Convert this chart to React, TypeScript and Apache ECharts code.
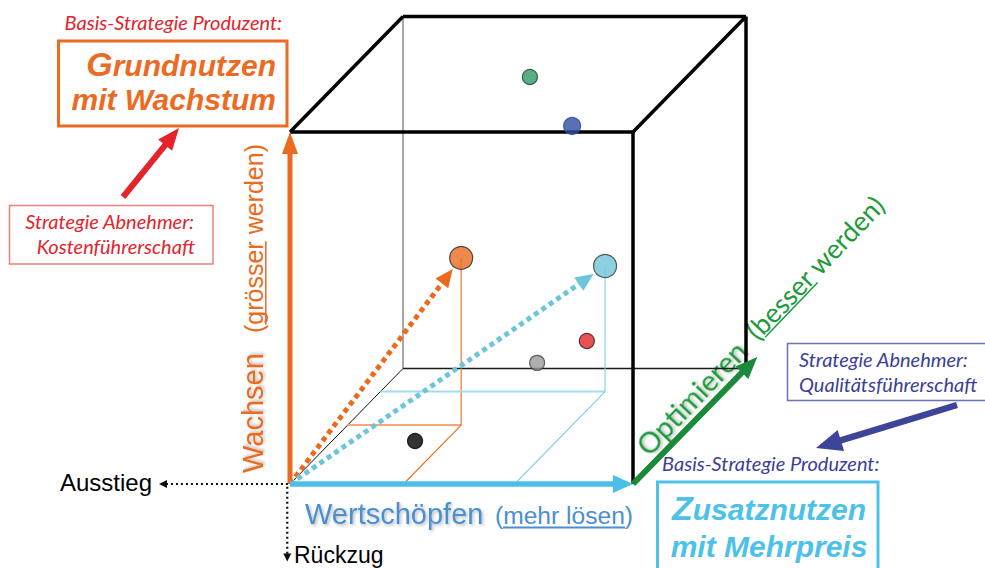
import React, { useEffect, useRef } from 'react';
import * as echarts from 'echarts';

const WIDTH = 985;
const HEIGHT = 568;

// Strategy cube: X = Wertschöpfen, Y = Wachsen, Z = Optimieren, each axis 0..10
const CUBE = 10;

// Market players placed inside the cube (model units)
const playerIds = ['gruen', 'blau', 'orange', 'hellblau', 'rot', 'grau', 'schwarz'];
const playerX = [3.7, 4.93, 3.31, 6.55, 5.36, 3.91, 2.42];
const playerY = [8.28, 6.89, 4.75, 3.57, 0.78, 0.16, 0];
const playerZ = [10, 10, 5.1, 8, 10, 10, 3.72];

// Players that get projection guides and a strategy arrow from the origin
const guidedPlayers = ['orange', 'hellblau'];

// Exit moves from the origin and the length of the Optimieren axis
const ausstiegX = -3.82;
const rueckzugY = -2.2;
const optimierenZ = 11;

const ARIAL = '"Liberation Sans", Arial, sans-serif';
const MYRIAD = 'Lato, "Open Sans", sans-serif';

const playerStyle: Record<string, { color: string; border: string; size: number; guide?: string; guideLight?: string }> = {
  gruen: { color: '#2e9a66', border: '#1f3d2d', size: 15 },
  blau: { color: '#2f4c9f', border: '#2f4c9f', size: 17 },
  orange: { color: '#eb6a20', border: '#222222', size: 23, guide: '#ec6a1e', guideLight: '#f4a67c' },
  hellblau: { color: '#6fc6d9', border: '#333333', size: 23, guide: '#7fcdee', guideLight: '#a3dbf2' },
  rot: { color: '#e3262b', border: '#3a1515', size: 15 },
  grau: { color: '#9a9a9a', border: '#444444', size: 15 },
  schwarz: { color: '#000000', border: '#000000', size: 15 },
};

// Oblique projection of the cube onto the page
const ORIGIN_PX = [290, 484];
const STEP_X = 34.3;
const STEP_Y = 35.2;
const DEPTH_X = 11.3;
const DEPTH_Y = -11.55;

type P3 = [number, number, number];
const project = (p: P3): [number, number] => [
  ORIGIN_PX[0] + p[0] * STEP_X + p[2] * DEPTH_X,
  ORIGIN_PX[1] - p[1] * STEP_Y + p[2] * DEPTH_Y,
];

type Segment = {
  from: P3;
  to: P3;
  color: string;
  width: number;
  dash?: number[];
  head?: [number, number];
  gap?: number;
};

const C = CUBE;
const EDGE = '#000000';

const segments: Segment[] = [];

// back edges of the cube
segments.push({ from: [0, 0, C], to: [0, C, C], color: '#6f6f6f', width: 1.2 });
segments.push({ from: [0, 0, C], to: [C, 0, C], color: '#1a1a1a', width: 1.6 });
segments.push({ from: [0, 0, 0], to: [0, 0, C], color: '#111111', width: 1 });

// projection guides of the highlighted players
guidedPlayers.forEach((id) => {
  const i = playerIds.indexOf(id);
  const st = playerStyle[id];
  const x = playerX[i];
  const y = playerY[i];
  const z = playerZ[i];
  segments.push({ from: [0, 0, z], to: [x, 0, z], color: st.guideLight!, width: 2 });
  segments.push({ from: [x, 0, z], to: [x, 0, 0], color: st.guide!, width: 1.1 });
  segments.push({ from: [x, y, z], to: [x, 0, z], color: st.guide!, width: 1.1 });
});

// visible cube edges
segments.push({ from: [0, C, 0], to: [C, C, 0], color: EDGE, width: 3.5 });
segments.push({ from: [C, 0, 0], to: [C, C, 0], color: EDGE, width: 3.5 });
segments.push({ from: [0, C, 0], to: [0, C, C], color: EDGE, width: 3.5 });
segments.push({ from: [0, C, C], to: [C, C, C], color: EDGE, width: 3.5 });
segments.push({ from: [C, C, C], to: [C, C, 0], color: EDGE, width: 3.5 });
segments.push({ from: [C, 0, C], to: [C, C, C], color: EDGE, width: 3.5 });

// strategy arrows from the origin towards the guided players
guidedPlayers.forEach((id) => {
  const i = playerIds.indexOf(id);
  segments.push({
    from: [0, 0, 0],
    to: [playerX[i], playerY[i], playerZ[i]],
    color: id === 'orange' ? '#ec6a1e' : '#6cc5db',
    width: 5,
    dash: [5, 4],
    head: [18, 16],
    gap: 14,
  });
});

// main axes
segments.push({ from: [0, 0, 0], to: [0, C, 0], color: '#eb6a1f', width: 5, head: [22, 16] });
segments.push({ from: [0, 0, 0], to: [C, 0, 0], color: '#4bbfe9', width: 5.5, head: [20, 18] });
segments.push({ from: [C, 0, 0], to: [C, 0, optimierenZ], color: '#1b8a3b', width: 6, head: [22, 18] });

// exit moves
segments.push({ from: [-0.06, 0, 0], to: [ausstiegX, 0, 0], color: '#111111', width: 2.2, dash: [2, 3], head: [8, 8] });
segments.push({ from: [-0.08, -0.08, 0], to: [-0.08, rueckzugY, 0], color: '#111111', width: 2.2, dash: [2, 3], head: [8, 8] });

// annotation pointer arrow built from plain graphic shapes
const pointer = (from: number[], to: number[], color: string, width: number, hl: number, hw: number) => {
  const dx = to[0] - from[0];
  const dy = to[1] - from[1];
  const len = Math.hypot(dx, dy);
  const ux = dx / len;
  const uy = dy / len;
  const base = [to[0] - ux * hl, to[1] - uy * hl];
  return [
    {
      type: 'line',
      shape: { x1: from[0], y1: from[1], x2: base[0] + ux, y2: base[1] + uy },
      style: { stroke: color, lineWidth: width },
      silent: true,
    },
    {
      type: 'polygon',
      shape: {
        points: [
          to,
          [base[0] - (uy * hw) / 2, base[1] + (ux * hw) / 2],
          [base[0] + (uy * hw) / 2, base[1] - (ux * hw) / 2],
        ],
      },
      style: { fill: color },
      silent: true,
    },
  ];
};

const txt = (text: string, x: number, y: number, style: Record<string, any>) => ({
  type: 'text',
  x,
  y,
  silent: true,
  style: { text, verticalAlign: 'middle', ...style },
});

const ORANGE = '#ec6b23';
const LIGHTBLUE = '#4cc2ea';
const RED = '#e3232d';
const DARKBLUE = '#3b3f96';
const GREEN = '#1e9a3a';
const WBLUE = '#4a8fd1';

const shadow = {
  textShadowColor: 'rgba(0,0,0,0.28)',
  textShadowBlur: 3,
  textShadowOffsetX: 1.5,
  textShadowOffsetY: 1.5,
};

const NOTE = { fontFamily: MYRIAD, fontStyle: 'italic', fontSize: 20 };

const OPT_ANGLE = (46.3 * Math.PI) / 180;

const graphics: any[] = [
  // upper left: producer strategy for growth
  txt('Basis-Strategie Produzent:', 282, 21.5, { ...NOTE, fill: RED, align: 'right' }),
  {
    type: 'rect', silent: true,
    shape: { x: 58.5, y: 41, width: 228.5, height: 85 },
    style: { fill: 'none', stroke: ORANGE, lineWidth: 3 },
  },
  {
    type: 'text', x: 276, y: 63.6, silent: true,
    style: {
      text: '{g|G}{r|rundnutzen}', align: 'right', verticalAlign: 'middle',
      rich: {
        g: { fontFamily: ARIAL, fontWeight: 'bold', fontStyle: 'italic', fontSize: 34, fill: ORANGE, lineHeight: 34, verticalAlign: 'bottom' },
        r: { fontFamily: ARIAL, fontWeight: 'bold', fontStyle: 'italic', fontSize: 30, fill: ORANGE, lineHeight: 34, verticalAlign: 'bottom' },
      },
    },
  },
  txt('mit Wachstum', 276, 99.3, {
    fontFamily: ARIAL, fontWeight: 'bold', fontStyle: 'italic', fontSize: 30, fill: ORANGE, align: 'right',
  }),
  ...pointer([123, 197], [179, 128], '#e4232a', 6, 22, 18),
  {
    type: 'rect', silent: true,
    shape: { x: 9.5, y: 205.5, width: 203.5, height: 58.5 },
    style: { fill: 'none', stroke: '#ee8080', lineWidth: 1.5 },
  },
  txt('Strategie Abnehmer:', 194, 220.5, { ...NOTE, fill: RED, align: 'right' }),
  txt('Kostenführerschaft', 195, 245.5, { ...NOTE, fill: RED, align: 'right' }),

  // Wachsen axis title, reading upwards
  {
    type: 'group', x: 253, y: 473, rotation: Math.PI / 2, silent: true,
    children: [
      txt('Wachsen', 0, 0, { fontFamily: ARIAL, fontSize: 29, fill: '#eb6a20', align: 'left', ...shadow }),
      txt('(grösser werden)', 140, 1.3, { fontFamily: ARIAL, fontSize: 25, fill: '#eb6a20', align: 'left' }),
      { type: 'line', shape: { x1: 148.3, y1: 12.8, x2: 231.7, y2: 12.8 }, style: { stroke: '#eb6a20', lineWidth: 1.5 } },
    ],
  },

  // Wertschöpfen axis title
  txt('Wertschöpfen', 305, 514, { fontFamily: ARIAL, fontSize: 29, fill: WBLUE, align: 'left', ...shadow }),
  txt('(mehr lösen)', 495, 515.5, { fontFamily: ARIAL, fontSize: 24.6, fill: WBLUE, align: 'left' }),
  {
    type: 'line', silent: true,
    shape: { x1: 503, y1: 527.5, x2: 625, y2: 527.5 },
    style: { stroke: WBLUE, lineWidth: 1.8 },
  },

  // Optimieren axis title along the depth axis
  {
    type: 'group', x: 633, y: 485, rotation: OPT_ANGLE, silent: true,
    children: [
      txt('Optimieren', 31, -19, { fontFamily: MYRIAD, fontSize: 29, fill: GREEN, align: 'left', ...shadow }),
      txt('(besser werden)', 190, -19, { fontFamily: MYRIAD, fontSize: 27, fill: GREEN, align: 'left' }),
      { type: 'line', shape: { x1: 198, y1: -6.5, x2: 274, y2: -6.5 }, style: { stroke: GREEN, lineWidth: 1.5 } },
    ],
  },

  // exits
  txt('Ausstieg', 60, 482.7, { fontFamily: ARIAL, fontSize: 24, fill: '#000000', align: 'left' }),
  txt('Rückzug', 294, 554.5, { fontFamily: ARIAL, fontSize: 23, fill: '#000000', align: 'left' }),

  // lower right: quality leadership
  {
    type: 'rect', silent: true,
    shape: { x: 787.5, y: 343.5, width: 210, height: 57 },
    style: { fill: 'none', stroke: '#6a72b6', lineWidth: 1.5 },
  },
  txt('Strategie Abnehmer:', 799, 358.5, { ...NOTE, fill: DARKBLUE, align: 'left' }),
  txt('Qualitätsführerschaft', 799, 383.5, { ...NOTE, fill: DARKBLUE, align: 'left' }),
  ...pointer([957, 405], [816, 448], '#3e4598', 6.5, 26, 22),
  txt('Basis-Strategie Produzent:', 662, 462.5, { ...NOTE, fill: DARKBLUE, align: 'left' }),
  {
    type: 'rect', silent: true,
    shape: { x: 657.5, y: 482, width: 220.5, height: 100 },
    style: { fill: 'none', stroke: LIGHTBLUE, lineWidth: 3 },
  },
  {
    type: 'text', x: 769, y: 507.6, silent: true,
    style: {
      text: '{g|Z}{r|usatznutzen}', align: 'center', verticalAlign: 'middle',
      rich: {
        g: { fontFamily: ARIAL, fontWeight: 'bold', fontStyle: 'italic', fontSize: 34, fill: LIGHTBLUE, lineHeight: 34, verticalAlign: 'bottom' },
        r: { fontFamily: ARIAL, fontWeight: 'bold', fontStyle: 'italic', fontSize: 30, fill: LIGHTBLUE, lineHeight: 34, verticalAlign: 'bottom' },
      },
    },
  },
  txt('mit Mehrpreis', 769, 546.3, {
    fontFamily: ARIAL, fontWeight: 'bold', fontStyle: 'italic', fontSize: 30, fill: LIGHTBLUE, align: 'center',
  }),
];

export default function App() {
  const ref = useRef<HTMLDivElement>(null);

  useEffect(() => {
    if (!ref.current) return;
    const chart = echarts.init(ref.current, undefined, { renderer: 'svg' });

    const segmentData = segments.map((s) => [...project(s.from), ...project(s.to)]);

    const playerData = playerIds.map((id, i) => {
      const st = playerStyle[id];
      return {
        name: id,
        value: project([playerX[i], playerY[i], playerZ[i]]),
        symbolSize: st.size,
        itemStyle: { color: st.color, borderColor: st.border, borderWidth: 1.2 },
      };
    });

    chart.setOption({
      animation: false,
      backgroundColor: '#ffffff',
      grid: { left: 0, right: 0, top: 0, bottom: 0 },
      xAxis: { type: 'value', min: 0, max: WIDTH, show: false },
      yAxis: { type: 'value', min: 0, max: HEIGHT, inverse: true, show: false },
      tooltip: { show: false },
      series: [
        {
          type: 'custom',
          silent: true,
          clip: false,
          z: 2,
          data: segmentData,
          encode: { x: [0, 2], y: [1, 3] },
          renderItem: (params: any, api: any) => {
            const seg = segments[params.dataIndex];
            const a = api.coord([api.value(0), api.value(1)]);
            let b = api.coord([api.value(2), api.value(3)]);
            const dx = b[0] - a[0];
            const dy = b[1] - a[1];
            const len = Math.hypot(dx, dy) || 1;
            const ux = dx / len;
            const uy = dy / len;
            if (seg.gap) b = [b[0] - ux * seg.gap, b[1] - uy * seg.gap];
            const children: any[] = [];
            let end = b;
            if (seg.head) {
              const [hl, hw] = seg.head;
              const base = [b[0] - ux * hl, b[1] - uy * hl];
              end = [base[0] + ux, base[1] + uy];
              children.push({
                type: 'polygon',
                shape: {
                  points: [
                    b,
                    [base[0] - (uy * hw) / 2, base[1] + (ux * hw) / 2],
                    [base[0] + (uy * hw) / 2, base[1] - (ux * hw) / 2],
                  ],
                },
                style: { fill: seg.color },
              });
            }
            children.unshift({
              type: 'line',
              shape: { x1: a[0], y1: a[1], x2: end[0], y2: end[1] },
              style: {
                stroke: seg.color,
                lineWidth: seg.width,
                lineDash: seg.dash || null,
                lineCap: 'butt',
              },
            });
            return { type: 'group', children };
          },
        },
        {
          type: 'scatter',
          silent: true,
          z: 5,
          symbol: 'circle',
          data: playerData,
        },
      ],
      graphic: { elements: graphics },
    });

    return () => chart.dispose();
  }, []);

  return (
    <div
      ref={ref}
      style={{ position: 'absolute', left: 0, top: 0, width: WIDTH, height: HEIGHT, background: '#fff' }}
    />
  );
}
